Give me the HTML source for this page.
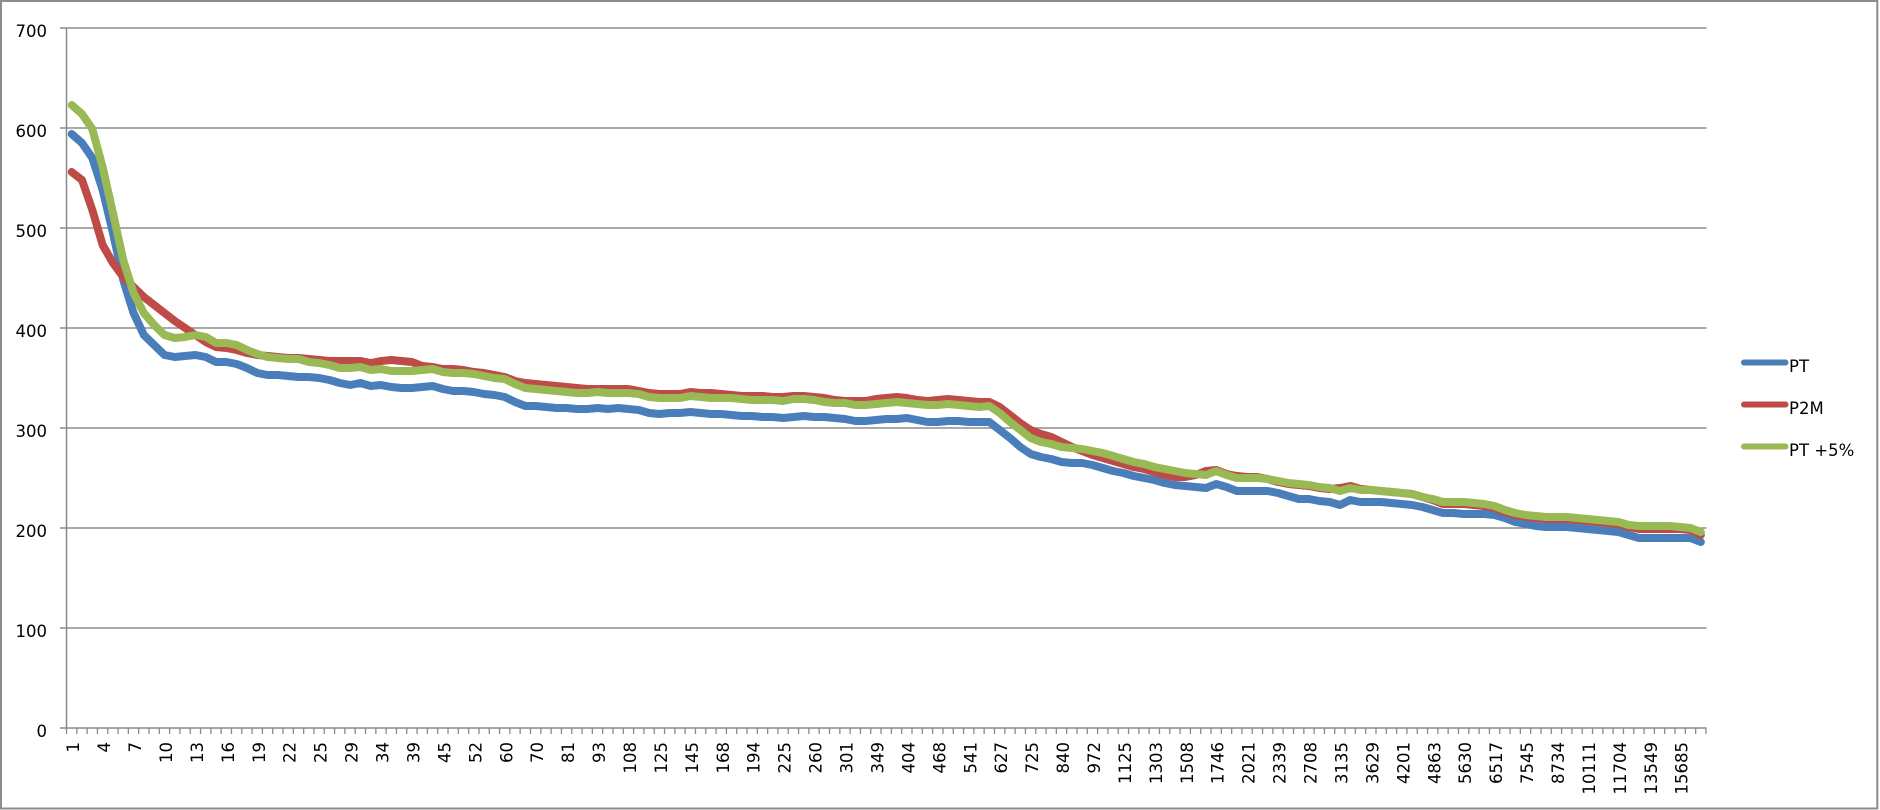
<!DOCTYPE html>
<html>
<head>
<meta charset="utf-8">
<style>
  html, body { margin:0; padding:0; background:#fff; }
  body { width:1880px; height:810px; overflow:hidden; }
  svg { display:block; }
  text { font-family: "DejaVu Sans", "Liberation Sans", sans-serif; font-size:16.5px; fill:#000; }
</style>
</head>
<body>
<svg width="1880" height="810" viewBox="0 0 1880 810" xmlns="http://www.w3.org/2000/svg">
  <rect x="0" y="0" width="1880" height="810" fill="#fff"/>
  <rect x="1" y="1" width="1876.3" height="807.5" fill="none" stroke="#8c8c8c" stroke-width="2"/>

  <g stroke="#8e8e8e" stroke-width="1.5">
    <line x1="66.5" y1="28" x2="1706.5" y2="28"/>
    <line x1="66.5" y1="128" x2="1706.5" y2="128"/>
    <line x1="66.5" y1="228" x2="1706.5" y2="228"/>
    <line x1="66.5" y1="328" x2="1706.5" y2="328"/>
    <line x1="66.5" y1="428" x2="1706.5" y2="428"/>
    <line x1="66.5" y1="528" x2="1706.5" y2="528"/>
    <line x1="66.5" y1="628" x2="1706.5" y2="628"/>
  </g>

  <g stroke="#8a8a8a" stroke-width="1.5">
    <line x1="66.5" y1="28" x2="66.5" y2="728"/>
    <line x1="60" y1="728" x2="1706.5" y2="728"/>
    <line x1="60" y1="28" x2="66.5" y2="28"/>
    <line x1="60" y1="128" x2="66.5" y2="128"/>
    <line x1="60" y1="228" x2="66.5" y2="228"/>
    <line x1="60" y1="328" x2="66.5" y2="328"/>
    <line x1="60" y1="428" x2="66.5" y2="428"/>
    <line x1="60" y1="528" x2="66.5" y2="528"/>
    <line x1="60" y1="628" x2="66.5" y2="628"/>
  </g>
  <line x1="65.85" y1="731" x2="1707.2" y2="731" stroke="#8a8a8a" stroke-width="6" stroke-dasharray="1.3 9.011"/>

  <g text-anchor="end">
    <text x="47" y="37">700</text>
    <text x="47" y="137">600</text>
    <text x="47" y="237">500</text>
    <text x="47" y="337">400</text>
    <text x="47" y="437">300</text>
    <text x="47" y="537">200</text>
    <text x="47" y="637">100</text>
    <text x="47" y="737">0</text>
  </g>

  <g text-anchor="end">
    <text transform="translate(73.2,742) rotate(-90)" dy="0.36em">1</text>
    <text transform="translate(104.1,742) rotate(-90)" dy="0.36em">4</text>
    <text transform="translate(135.1,742) rotate(-90)" dy="0.36em">7</text>
    <text transform="translate(166.0,742) rotate(-90)" dy="0.36em">10</text>
    <text transform="translate(196.9,742) rotate(-90)" dy="0.36em">13</text>
    <text transform="translate(227.9,742) rotate(-90)" dy="0.36em">16</text>
    <text transform="translate(258.8,742) rotate(-90)" dy="0.36em">19</text>
    <text transform="translate(289.7,742) rotate(-90)" dy="0.36em">22</text>
    <text transform="translate(320.7,742) rotate(-90)" dy="0.36em">25</text>
    <text transform="translate(351.6,742) rotate(-90)" dy="0.36em">29</text>
    <text transform="translate(382.5,742) rotate(-90)" dy="0.36em">34</text>
    <text transform="translate(413.5,742) rotate(-90)" dy="0.36em">39</text>
    <text transform="translate(444.4,742) rotate(-90)" dy="0.36em">45</text>
    <text transform="translate(475.3,742) rotate(-90)" dy="0.36em">52</text>
    <text transform="translate(506.3,742) rotate(-90)" dy="0.36em">60</text>
    <text transform="translate(537.2,742) rotate(-90)" dy="0.36em">70</text>
    <text transform="translate(568.1,742) rotate(-90)" dy="0.36em">81</text>
    <text transform="translate(599.1,742) rotate(-90)" dy="0.36em">93</text>
    <text transform="translate(630.0,742) rotate(-90)" dy="0.36em">108</text>
    <text transform="translate(660.9,742) rotate(-90)" dy="0.36em">125</text>
    <text transform="translate(691.9,742) rotate(-90)" dy="0.36em">145</text>
    <text transform="translate(722.8,742) rotate(-90)" dy="0.36em">168</text>
    <text transform="translate(753.7,742) rotate(-90)" dy="0.36em">194</text>
    <text transform="translate(784.7,742) rotate(-90)" dy="0.36em">225</text>
    <text transform="translate(815.6,742) rotate(-90)" dy="0.36em">260</text>
    <text transform="translate(846.5,742) rotate(-90)" dy="0.36em">301</text>
    <text transform="translate(877.5,742) rotate(-90)" dy="0.36em">349</text>
    <text transform="translate(908.4,742) rotate(-90)" dy="0.36em">404</text>
    <text transform="translate(939.3,742) rotate(-90)" dy="0.36em">468</text>
    <text transform="translate(970.3,742) rotate(-90)" dy="0.36em">541</text>
    <text transform="translate(1001.2,742) rotate(-90)" dy="0.36em">627</text>
    <text transform="translate(1032.1,742) rotate(-90)" dy="0.36em">725</text>
    <text transform="translate(1063.1,742) rotate(-90)" dy="0.36em">840</text>
    <text transform="translate(1094.0,742) rotate(-90)" dy="0.36em">972</text>
    <text transform="translate(1124.9,742) rotate(-90)" dy="0.36em">1125</text>
    <text transform="translate(1155.9,742) rotate(-90)" dy="0.36em">1303</text>
    <text transform="translate(1186.8,742) rotate(-90)" dy="0.36em">1508</text>
    <text transform="translate(1217.7,742) rotate(-90)" dy="0.36em">1746</text>
    <text transform="translate(1248.7,742) rotate(-90)" dy="0.36em">2021</text>
    <text transform="translate(1279.6,742) rotate(-90)" dy="0.36em">2339</text>
    <text transform="translate(1310.5,742) rotate(-90)" dy="0.36em">2708</text>
    <text transform="translate(1341.5,742) rotate(-90)" dy="0.36em">3135</text>
    <text transform="translate(1372.4,742) rotate(-90)" dy="0.36em">3629</text>
    <text transform="translate(1403.3,742) rotate(-90)" dy="0.36em">4201</text>
    <text transform="translate(1434.3,742) rotate(-90)" dy="0.36em">4863</text>
    <text transform="translate(1465.2,742) rotate(-90)" dy="0.36em">5630</text>
    <text transform="translate(1496.1,742) rotate(-90)" dy="0.36em">6517</text>
    <text transform="translate(1527.1,742) rotate(-90)" dy="0.36em">7545</text>
    <text transform="translate(1558.0,742) rotate(-90)" dy="0.36em">8734</text>
    <text transform="translate(1588.9,742) rotate(-90)" dy="0.36em">10111</text>
    <text transform="translate(1619.9,742) rotate(-90)" dy="0.36em">11704</text>
    <text transform="translate(1650.8,742) rotate(-90)" dy="0.36em">13549</text>
    <text transform="translate(1681.7,742) rotate(-90)" dy="0.36em">15685</text>
  </g>

  <g transform="matrix(10.311,0,0,-1,71.7,728)" fill="none" stroke-linejoin="round" stroke-linecap="round">
    <polyline vector-effect="non-scaling-stroke" stroke="#4a7ebb" stroke-width="8" points="0,594 1,585 2,570 3,538 4,495 5,448 6,415 7,393 8,383 9,373 10,371 11,372 12,373 13,371 14,366 15,366 16,364 17,360 18,355 19,353 20,353 21,352 22,351 23,351 24,350 25,348 26,345 27,343 28,345 29,342 30,343 31,341 32,340 33,340 34,341 35,342 36,339 37,337 38,337 39,336 40,334 41,333 42,331 43,326 44,322 45,322 46,321 47,320 48,320 49,319 50,319 51,320 52,319 53,320 54,319 55,318 56,315 57,314 58,315 59,315 60,316 61,315 62,314 63,314 64,313 65,312 66,312 67,311 68,311 69,310 70,311 71,312 72,311 73,311 74,310 75,309 76,307 77,307 78,308 79,309 80,309 81,310 82,308 83,306 84,306 85,307 86,307 87,306 88,306 89,306 90,298 91,290 92,281 93,274 94,271 95,269 96,266 97,265 98,265 99,263 100,260 101,257 102,255 103,252 104,250 105,248 106,245 107,243 108,242 109,241 110,240 111,244 112,241 113,237 114,237 115,237 116,237 117,235 118,232 119,229 120,229 121,227 122,226 123,223 124,228 125,226 126,226 127,226 128,225 129,224 130,223 131,221 132,218 133,215 134,215 135,214 136,214 137,214 138,213 139,210 140,206 141,204 142,202 143,201 144,201 145,201 146,200 147,199 148,198 149,197 150,196 151,193 152,190 153,190 154,190 155,190 156,190 157,190 158,186"/>
    <polyline vector-effect="non-scaling-stroke" stroke="#be4b48" stroke-width="8" points="0,556 1,548 2,518 3,483 4,465 5,451 6,441 7,431 8,423 9,415 10,407 11,400 12,393 13,386 14,381 15,380 16,378 17,375 18,373 19,372 20,371 21,370 22,370 23,369 24,368 25,367 26,367 27,367 28,367 29,365 30,367 31,368 32,367 33,366 34,362 35,361 36,359 37,359 38,358 39,356 40,355 41,353 42,351 43,347 44,345 45,344 46,343 47,342 48,341 49,340 50,339 51,339 52,339 53,339 54,339 55,337 56,335 57,334 58,334 59,334 60,336 61,335 62,335 63,334 64,333 65,332 66,332 67,332 68,331 69,331 70,332 71,332 72,331 73,330 74,328 75,327 76,327 77,327 78,329 79,330 80,331 81,330 82,328 83,327 84,328 85,329 86,328 87,327 88,326 89,326 90,321 91,313 92,305 93,298 94,294 95,291 96,286 97,281 98,277 99,273 100,270 101,267 102,264 103,261 104,259 105,256 106,253 107,251 108,251 109,253 110,257 111,258 112,254 113,252 114,251 115,251 116,249 117,246 118,244 119,243 120,242 121,240 122,239 123,240 124,242 125,239 126,238 127,237 128,236 129,235 130,234 131,231 132,228 133,224 134,224 135,224 136,223 137,222 138,220 139,216 140,213 141,211 142,210 143,209 144,209 145,209 146,208 147,207 148,206 149,205 150,204 151,201 152,199 153,199 154,199 155,199 156,199 157,198 158,193"/>
    <polyline vector-effect="non-scaling-stroke" stroke="#98b954" stroke-width="8" points="0,623 1,614 2,599 3,561 4,515 5,468 6,435 7,415 8,403 9,393 10,390 11,391 12,393 13,391 14,385 15,385 16,383 17,378 18,374 19,371 20,370 21,369 22,369 23,366 24,365 25,363 26,360 27,360 28,361 29,358 30,359 31,357 32,357 33,357 34,358 35,359 36,356 37,355 38,355 39,354 40,352 41,350 42,349 43,344 44,340 45,339 46,338 47,337 48,336 49,335 50,335 51,336 52,335 53,335 54,335 55,334 56,331 57,330 58,330 59,330 60,332 61,331 62,330 63,330 64,330 65,329 66,328 67,328 68,328 69,327 70,329 71,329 72,328 73,326 74,325 75,325 76,323 77,323 78,324 79,325 80,326 81,325 82,324 83,323 84,323 85,324 86,323 87,322 88,321 89,322 90,315 91,306 92,298 93,290 94,286 95,284 96,281 97,280 98,279 99,277 100,275 101,272 102,269 103,266 104,264 105,261 106,259 107,257 108,255 109,254 110,253 111,257 112,253 113,250 114,250 115,250 116,249 117,247 118,245 119,244 120,243 121,241 122,240 123,237 124,240 125,238 126,238 127,237 128,236 129,235 130,234 131,231 132,229 133,226 134,226 135,226 136,225 137,224 138,222 139,218 140,215 141,213 142,212 143,211 144,211 145,211 146,210 147,209 148,208 149,207 150,206 151,203 152,202 153,202 154,202 155,202 156,201 157,200 158,196"/>
  </g>

  <g stroke-width="6" stroke-linecap="round">
    <line x1="1744" y1="362.5" x2="1785.5" y2="362.5" stroke="#4a7ebb"/>
    <line x1="1744" y1="404.5" x2="1785.5" y2="404.5" stroke="#be4b48"/>
    <line x1="1744" y1="446.5" x2="1785.5" y2="446.5" stroke="#98b954"/>
  </g>
  <text x="1789" y="372">PT</text>
  <text x="1789" y="414">P2M</text>
  <text x="1789" y="456">PT +5%</text>
</svg>
</body>
</html>
